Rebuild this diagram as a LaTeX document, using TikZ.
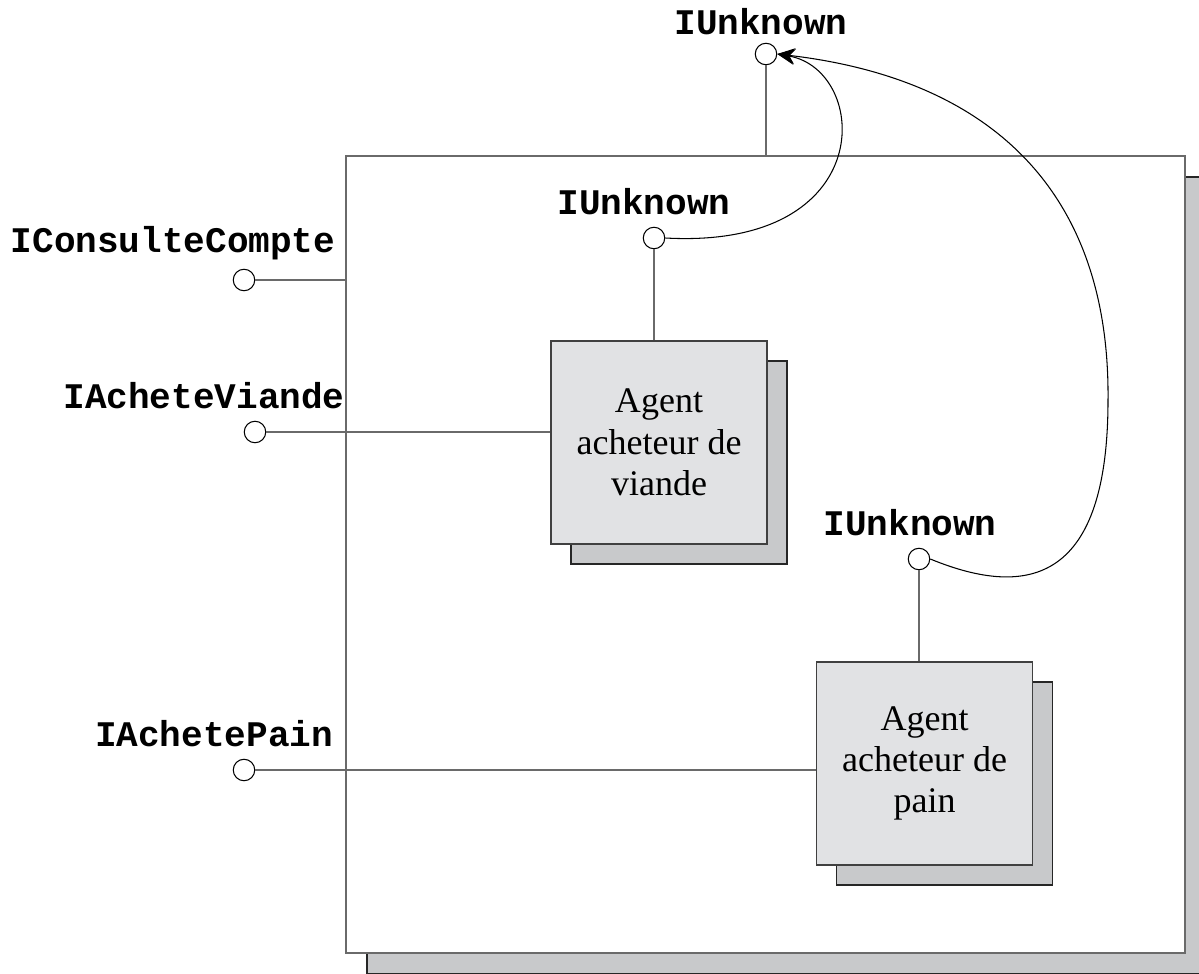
\documentclass[tikz,border=0pt]{standalone}
\usepackage{fontspec}
\setmainfont{Liberation Serif}
\newfontfamily\ifacefont{Liberation Mono}
\usetikzlibrary{calc, positioning}
\usetikzlibrary{arrows.meta}
\usetikzlibrary{shadows}
\definecolor{agentfill}{HTML}{E1E2E4}
\definecolor{shadefill}{HTML}{C8C9CB}
\definecolor{linegray}{HTML}{6A6A6A}
\def\lw{0.8pt}
\tikzset{
    port/.style = {
        draw, circle, minimum size=0.43cm, inner sep=0pt, fill=white, line width=0.6pt
    },
    iface/.style = {
        font=\ifacefont\bfseries\fontsize{20.5}{24}\selectfont, inner sep=0pt
    },
    agent/.style = {
        draw=black!75, fill=agentfill, line width=\lw, minimum width=4.32cm, minimum height=4.06cm,
        align=center, font=\fontsize{20.5}{23.5}\selectfont,
        general shadow={fill=shadefill, draw=black!85, shadow xshift=0.4cm, shadow yshift=-0.4cm}
    },
    compo/.style = {
        draw=linegray, fill=white, line width=\lw, minimum width=16.78cm, minimum height=15.94cm,
        general shadow={fill=shadefill, draw=black!85, shadow xshift=0.42cm, shadow yshift=-0.42cm}
    },
    wire/.style = {draw=linegray, line width=\lw}
}

\begin{document}
\begin{tikzpicture}[x=0.02cm, y=-0.02cm]
        \useasboundingbox (0,0) rectangle (1199,973);
        % component and its agents
        \node[compo] (comp) at (765.5,554.5) {};
        \node[agent] (meat) at (659,442.5) {Agent\\acheteur de\\viande};
        \node[agent] (bread) at (924.5,763.5) {Agent\\acheteur de\\pain};
        % interfaces
        \node[port] (unk) at (766,54) {};
        \node[port] (unk1) at (654,238) {};
        \node[port] (unk2) at (919,559) {};
        \node[port] (cpt) at (244,280) {};
        \node[port] (vnd) at (255,432) {};
        \node[port] (pn) at (244,770) {};
        \node[iface] (unk-l) at (761,22) {IUnknown};
        \node[iface] (unk1-l) at (644,202) {IUnknown};
        \node[iface] (unk2-l) at (910,523) {IUnknown};
        \node[iface] (cpt-l) at (173,243) {IConsulteCompte};
        \node[iface] (vnd-l) at (204,396) {IAcheteViande};
        \node[iface] (pn-l) at (214,734) {IAchetePain};
        \draw[wire] (unk) -- (unk |- comp.north);
        \draw[wire] (unk1) -- (unk1 |- meat.north);
        \draw[wire] (unk2) -- (unk2 |- bread.north);
        \draw[wire] (cpt) -- (cpt -| comp.west);
        \draw[wire] (vnd) -- (vnd -| meat.west);
        \draw[wire] (pn) -- (pn -| bread.west);
        \begin{scope}[line width=0.6pt, >={Stealth[length=10pt,width=9pt]}, ->]
            \draw (unk1.east) .. controls (880,250) and (870,70) .. (unk.east);
            \draw (unk2.east) .. controls (1030,600) and (1108,580) .. (1108,400)
                .. controls (1110,200) and (1000,80) .. (unk.east);
        \end{scope}
    \end{tikzpicture}
\end{document}
